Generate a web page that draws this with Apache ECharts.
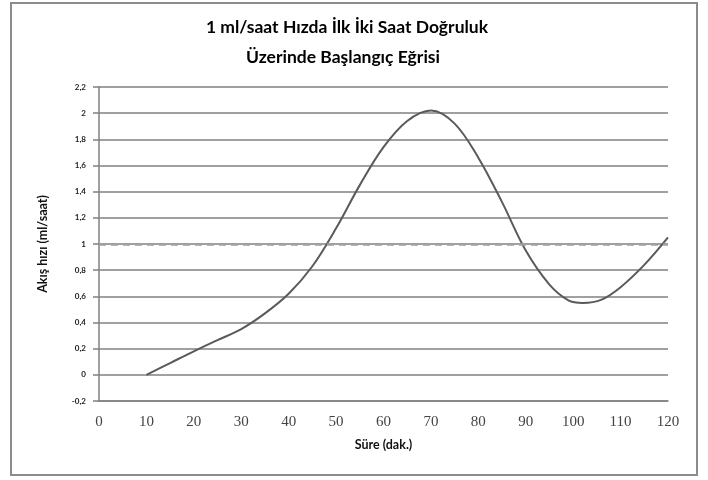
<!DOCTYPE html>
<html><head><meta charset="utf-8">
<script src="https://cdn.jsdelivr.net/npm/echarts@6/dist/echarts.min.js"></script>
<style>html,body{margin:0;padding:0;background:#fff}#c{width:708px;height:480px}</style>
</head><body><div id="c"></div>
<script>
const titleLines = ['1 ml/saat Hızda İlk İki Saat Doğruluk', 'Üzerinde Başlangıç Eğrisi'];
const xName = 'Süre (dak.)';
const yName = 'Akış hızı (ml/saat)';
const minutes = [10, 15, 20, 25, 30, 35, 40, 45, 50, 55, 60, 65, 70, 75, 80, 85, 90, 95, 99, 102, 106, 110, 115, 120];
const flowRate = [0, 0.09, 0.18, 0.265, 0.35, 0.47, 0.62, 0.83, 1.12, 1.45, 1.74, 1.94, 2.02, 1.92, 1.66, 1.32, 0.95, 0.69, 0.57, 0.55, 0.575, 0.67, 0.84, 1.05];
const targetRate = 1;
const yTickLabels = ['-0,2', '0', '0,2', '0,4', '0,6', '0,8', '1', '1,2', '1,4', '1,6', '1,8', '2', '2,2'];
const xTickLabels = ['0', '10', '20', '30', '40', '50', '60', '70', '80', '90', '100', '110', '120'];

const chart = echarts.init(document.getElementById('c'), null, {renderer: 'canvas'});
const gridColor = '#808080';
chart.setOption({
  backgroundColor: '#ffffff',
  animation: false,
  graphic: [
    {type: 'rect', shape: {x: 11, y: 3, width: 686, height: 472}, style: {fill: 'none', stroke: '#8c8c8c', lineWidth: 2}, silent: true},
    {type: 'text', x: 347, y: 27, style: {text: titleLines[0], font: 'bold 17.5px Lato', fill: '#000', align: 'center', verticalAlign: 'middle'}},
    {type: 'text', x: 343, y: 57, style: {text: titleLines[1], font: 'bold 17.5px Lato', fill: '#000', align: 'center', verticalAlign: 'middle'}}
  ],
  grid: {left: 99, right: 40, top: 87, bottom: 79, containLabel: false},
  xAxis: {
    type: 'value', min: 0, max: 120, interval: 10,
    name: xName, nameLocation: 'middle', nameGap: 37, nameMoveOverlap: false,
    nameTextStyle: {fontFamily: 'Lato', fontWeight: 'bold', fontSize: 12.5, color: '#111'},
    axisLine: {show: true, onZero: false, lineStyle: {color: gridColor, width: 1.5}},
    axisTick: {show: false},
    axisLabel: {margin: 14, fontFamily: 'Liberation Serif', fontSize: 15, color: '#444',
      formatter: v => xTickLabels[Math.round(v / 10)]},
    splitLine: {show: false}
  },
  yAxis: {
    type: 'value', min: -0.2, max: 2.2, interval: 0.2,
    name: yName, nameLocation: 'middle', nameGap: 50,
    nameTextStyle: {fontFamily: 'Lato', fontWeight: 'bold', fontSize: 12.5, color: '#111'},
    axisLine: {show: true, lineStyle: {color: gridColor, width: 1.5}},
    axisTick: {show: true, length: 6, lineStyle: {color: gridColor, width: 1.5}},
    axisLabel: {margin: 13, fontFamily: 'Lato', fontWeight: 'bold', fontSize: 8, color: '#222',
      formatter: v => yTickLabels[Math.round((v + 0.2) / 0.2)]},
    splitLine: {show: true, lineStyle: {color: gridColor, width: 1.5}}
  },
  series: [{
    type: 'line',
    data: minutes.map((m, i) => [m, flowRate[i]]),
    smooth: 0.35,
    showSymbol: false,
    lineStyle: {color: '#5a5a5a', width: 2},
    markLine: {
      silent: true, symbol: ['none', 'none'], label: {show: false},
      lineStyle: {type: [7, 5], color: '#a0a0a0', width: 2.5},
      data: [{yAxis: targetRate}]
    },
    z: 3
  }]
});
</script>
</body></html>
